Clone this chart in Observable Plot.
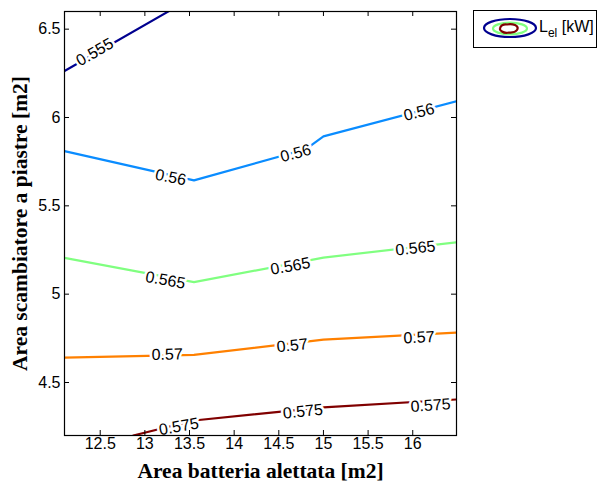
<!DOCTYPE html>
<html><head><meta charset="utf-8">
<script src="https://cdn.jsdelivr.net/npm/d3@7"></script>
<script src="https://cdn.jsdelivr.net/npm/@observablehq/plot@0.6"></script>
<style>
body{margin:0;background:#fff;}
#wrap{position:relative;width:602px;height:485px;}
#legend{position:absolute;left:473px;top:10px;width:124px;height:38px;border:1px solid #000;box-sizing:border-box;background:#fff;font-family:"Liberation Sans",Arial,sans-serif;font-size:16px;}
#legend svg{position:absolute;left:8px;top:4px;}
#legend .t{position:absolute;left:65px;top:7px;white-space:nowrap;line-height:18px;}
#legend sub{font-size:12px;vertical-align:-5px;line-height:0;}
</style></head><body><div id="wrap"><div id="legend">
<svg width="58" height="28" viewBox="0 0 58 28"><ellipse cx="28" cy="13" rx="26" ry="9" fill="none" stroke="#00008F" stroke-width="2.2"/><ellipse cx="28" cy="13.5" rx="17" ry="5.8" fill="none" stroke="#80FF80" stroke-width="2.2"/><path d="M18,13.5 Q19,9 25,9.5 Q29,8.5 33,10 Q37,12 35,15 Q33,18 27,17.5 Q23,18.5 20,16.5 Q17.5,15 18,13.5Z" fill="none" stroke="#800000" stroke-width="2.2"/></svg>
<div class="t">L<sub>el</sub> [kW]</div></div></div>
<script>
// Contour levels and colours
const levels = ["0.555", "0.56", "0.565", "0.57", "0.575"];
const colors = ["#00008F", "#0A8CFF", "#80FF80", "#FF8000", "#800000"];

// Contour polylines
const c555x = [12.1, 13.28];
const c555y = [6.263, 6.605];
const c560x = [12.1, 13.55, 14.8, 15.0, 16.49];
const c560y = [5.81, 5.644, 5.82, 5.893, 6.092];
const c565x = [12.1, 13.55, 15.0, 16.49];
const c565y = [5.205, 5.068, 5.207, 5.294];
const c570x = [12.1, 13.55, 15.0, 16.49];
const c570y = [4.641, 4.656, 4.743, 4.782];
const c575x = [12.87, 13.55, 15.0, 16.49];
const c575y = [4.2, 4.285, 4.359, 4.404];

// Inline contour labels
const labelText = ["0.555", "0.56", "0.56", "0.56", "0.565", "0.565", "0.565", "0.57", "0.57", "0.57", "0.575", "0.575", "0.575"];
const labelX = [12.44, 13.29, 14.69, 16.07, 13.23, 14.63, 16.03, 13.25, 14.65, 16.07, 13.38, 14.77, 16.2];
const labelY = [6.37, 5.661, 5.797, 6.03, 5.079, 5.158, 5.26, 4.658, 4.709, 4.754, 4.25, 4.336, 4.37];
const labelAngle = [-30, 11, -15, -14, 10, -10, -6, -1, -6, -3, -10, -6, -4];

const xTicks = [12.5, 13, 13.5, 14, 14.5, 15, 15.5, 16];
const yTicks = [4.5, 5, 5.5, 6, 6.5];
const xTitle = "Area batteria alettata [m2]";
const yTitle = "Area scambiatore a piastre [m2]";

const lineX = [c555x, c560x, c565x, c570x, c575x];
const lineY = [c555y, c560y, c565y, c570y, c575y];
const lineData = [];
levels.forEach((lv, i) => lineX[i].forEach((x, j) => lineData.push({level: lv, x, y: lineY[i][j]})));
const labels = labelText.map((t, i) => ({text: t, x: labelX[i], y: labelY[i], angle: labelAngle[i]}));

const W = 602, H = 485, mL = 64, mR = 146, mT = 11, mB = 50;
const pw = W - mL - mR, ph = H - mT - mB, tl = 5;
const sans = "'Liberation Sans', Arial, sans-serif";
const serif = "'Liberation Serif', 'Times New Roman', serif";

const chart = Plot.plot({
  width: W, height: H,
  marginLeft: mL, marginRight: mR, marginTop: mT, marginBottom: mB,
  x: {domain: [12.1, 16.49], axis: null},
  y: {domain: [4.2, 6.6], axis: null},
  color: {domain: levels, range: colors},
  style: {fontFamily: sans, fontSize: "15px", background: "white", color: "black", overflow: "visible"},
  marks: [
    Plot.line(lineData, {x: "x", y: "y", z: "level", stroke: "level", strokeWidth: 2.2, clip: true}),
    Plot.text(labels, {x: "x", y: "y", text: "text", rotate: "angle", fill: "black", stroke: "white", strokeWidth: 5, fontSize: 16, fontFamily: sans}),
    Plot.frame({stroke: "black", strokeWidth: 1.2}),
    Plot.tickX(xTicks, {x: d => d, insetTop: ph - tl, stroke: "black"}),
    Plot.tickX(xTicks, {x: d => d, insetBottom: ph - tl, stroke: "black"}),
    Plot.tickY(yTicks, {y: d => d, insetRight: pw - tl, stroke: "black"}),
    Plot.tickY(yTicks, {y: d => d, insetLeft: pw - tl, stroke: "black"}),
    Plot.text(xTicks, {x: d => d, frameAnchor: "bottom", dy: 13, text: d => String(d), fontSize: 16, fill: "black"}),
    Plot.text(yTicks, {y: d => d, frameAnchor: "left", dx: -4, textAnchor: "end", text: d => String(d), fontSize: 16, fill: "black"}),
    Plot.text([xTitle], {frameAnchor: "bottom", dy: 42, text: d => d, fontWeight: "bold", fontFamily: serif, fontSize: 21.5, fill: "black"}),
    Plot.text([yTitle], {frameAnchor: "left", dx: -44, rotate: -90, textAnchor: "middle", text: d => d, fontWeight: "bold", fontFamily: serif, fontSize: 21.5, fill: "black"})
  ]
});
document.getElementById("wrap").prepend(chart);
chart.style.position = "absolute";
chart.style.left = "0";
chart.style.top = "0";
</script></body></html>
